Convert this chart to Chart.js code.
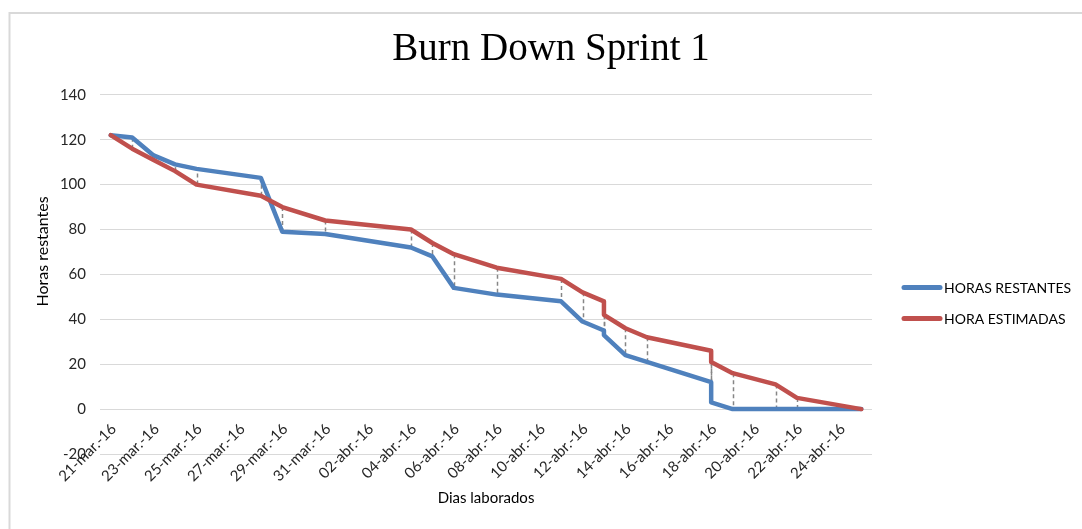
<!DOCTYPE html>
<html><head><meta charset="utf-8">
<script src="https://cdn.jsdelivr.net/npm/chart.js@4.4.0/dist/chart.umd.min.js"></script>
<style>html,body{margin:0;padding:0;background:#fff;}#wrap{width:1082px;height:529px;position:relative;}</style>
</head><body><div id="wrap"><canvas id="c" width="1082" height="529"></canvas></div>
<script>
// ---- data ----
const fechas = ['2016-03-21','2016-03-22','2016-03-23','2016-03-24','2016-03-25','2016-03-28','2016-03-29','2016-03-31','2016-04-04','2016-04-05','2016-04-06','2016-04-08','2016-04-11','2016-04-12','2016-04-13','2016-04-13','2016-04-14','2016-04-15','2016-04-18','2016-04-18','2016-04-19','2016-04-21','2016-04-22','2016-04-25'];
const horasRestantes = [122,121,113,109,107,103,79,78,72,68,54,51,48,39,35,33,24,21,12,3,0,0,0,0];
const horaEstimadas  = [122,116,111,106,100,95,90,84,80,74,69,63,58,52,48,42,36,32,26,21,16,11,5,0];
const tickLabels = ['21-mar.-16','23-mar.-16','25-mar.-16','27-mar.-16','29-mar.-16','31-mar.-16','02-abr.-16','04-abr.-16','06-abr.-16','08-abr.-16','10-abr.-16','12-abr.-16','14-abr.-16','16-abr.-16','18-abr.-16','20-abr.-16','22-abr.-16','24-abr.-16'];
const seriesNames = ['HORAS RESTANTES','HORA ESTIMADAS'];
const titulo = 'Burn Down Sprint 1';
const ejeY = 'Horas restantes';
const ejeX = 'Dias laborados';
const yRange = [-20, 140];
const yStep = 20;

// ---- helpers ----
const DAY = 86400000;
const t0 = Date.parse(fechas[0] + 'T00:00:00Z');
const dayOf = s => Math.round((Date.parse(s + 'T00:00:00Z') - t0) / DAY);
const meses = {'ene.':0,'feb.':1,'mar.':2,'abr.':3,'may.':4,'jun.':5};
const labelDay = l => { const p = l.split('-'); return Math.round((Date.UTC(2000 + (+p[2]), meses[p[1]], +p[0]) - t0) / DAY); };
const xs = fechas.map(dayOf);
const tickDays = tickLabels.map(labelDay);
const lastDay = xs[xs.length - 1];

const colors = ['#4F81BD', '#C0504D'];
const FONT = 'Lato';

const frame = {
  id: 'frame',
  beforeDraw(chart) {
    const ctx = chart.ctx;
    ctx.save();
    ctx.strokeStyle = '#d9d9d9';
    ctx.lineWidth = 2;
    ctx.beginPath();
    ctx.moveTo(9.5, 529); ctx.lineTo(9.5, 13); ctx.lineTo(1082, 13);
    ctx.stroke();
    ctx.restore();
  }
};

const dropLines = {
  id: 'dropLines',
  beforeDatasetsDraw(chart) {
    const {ctx, scales: {x, y}} = chart;
    ctx.save();
    ctx.strokeStyle = '#868686';
    ctx.lineWidth = 1.5;
    ctx.setLineDash([4, 3]);
    xs.forEach((d, i) => {
      const px = Math.round(x.getPixelForValue(d)) + 0.5;
      ctx.beginPath();
      ctx.moveTo(px, y.getPixelForValue(horaEstimadas[i]));
      ctx.lineTo(px, y.getPixelForValue(horasRestantes[i]));
      ctx.stroke();
    });
    ctx.restore();
  }
};

const sideText = {
  id: 'sideText',
  afterDraw(chart) {
    const {ctx, chartArea} = chart;
    ctx.save();
    ctx.fillStyle = '#000';
    ctx.font = '16px ' + FONT;
    ctx.textAlign = 'center';
    ctx.textBaseline = 'middle';
    ctx.translate(43, (chartArea.top + chartArea.bottom) / 2 - 23);
    ctx.rotate(-Math.PI / 2);
    ctx.fillText(ejeY, 0, 0);
    ctx.restore();
    ctx.save();
    const lx = chartArea.right + 32;
    const ly = (chartArea.top + chartArea.bottom) / 2 + 13;
    seriesNames.forEach((n, i) => {
      const yy = ly + i * 31;
      ctx.strokeStyle = colors[i];
      ctx.lineWidth = 5;
      ctx.lineCap = 'round';
      ctx.beginPath();
      ctx.moveTo(lx, yy); ctx.lineTo(lx + 36, yy);
      ctx.stroke();
      ctx.fillStyle = '#000';
      ctx.font = '14px ' + FONT;
      ctx.textAlign = 'left';
      ctx.textBaseline = 'middle';
      ctx.fillText(n, lx + 40, yy + 1);
    });
    ctx.restore();
  }
};

new Chart(document.getElementById('c'), {
  type: 'line',
  data: {
    datasets: [
      { label: seriesNames[0], data: xs.map((d, i) => ({x: d, y: horasRestantes[i]})), borderColor: colors[0], backgroundColor: colors[0], borderWidth: 4.5, pointRadius: 0, tension: 0, borderJoinStyle: 'round', borderCapStyle: 'round', order: 2 },
      { label: seriesNames[1], data: xs.map((d, i) => ({x: d, y: horaEstimadas[i]})), borderColor: colors[1], backgroundColor: colors[1], borderWidth: 4.5, pointRadius: 0, tension: 0, borderJoinStyle: 'round', borderCapStyle: 'round', order: 1 }
    ]
  },
  options: {
    responsive: false,
    animation: false,
    devicePixelRatio: 1,
    layout: { padding: { left: 20, right: 0, top: 0, bottom: 0 } },
    plugins: {
      legend: { display: false },
      tooltip: { enabled: false },
      title: { display: true, text: titulo, color: '#000', font: { family: 'Liberation Serif', size: 39, weight: 'normal' }, padding: { top: 26, bottom: 22 } }
    },
    scales: {
      x: {
        type: 'linear',
        min: -0.5, max: lastDay + 0.5,
        afterBuildTicks: s => { s.ticks = tickDays.map(v => ({ value: v })); s._computeLabelArea = () => undefined; },
        afterFit: s => { s.height = 75; },
        grid: { display: false, drawTicks: false },
        border: { display: false },
        ticks: { autoSkip: false, minRotation: 45, maxRotation: 45, color: '#262626', font: { family: FONT, size: 15 }, padding: -34, labelOffset: 3,
          callback: v => tickLabels[tickDays.indexOf(v)] },
        title: { display: true, text: ejeX, color: '#000', font: { family: FONT, size: 15 }, padding: { top: 0, bottom: 22 } }
      },
      y: {
        min: yRange[0], max: yRange[1],
        afterFit: s => { s.width = 80; },
        grid: { color: '#d9d9d9', lineWidth: 1, drawTicks: false },
        border: { display: false },
        ticks: { stepSize: yStep, color: '#262626', font: { family: FONT, size: 15 }, padding: 14 }
      },
      legendSpace: {
        type: 'linear', position: 'right', display: true,
        afterFit: s => { s.width = 210; },
        grid: { display: false, drawTicks: false },
        border: { display: false },
        ticks: { display: false }
      }
    }
  },
  plugins: [frame, dropLines, sideText]
});
</script>
</body></html>
